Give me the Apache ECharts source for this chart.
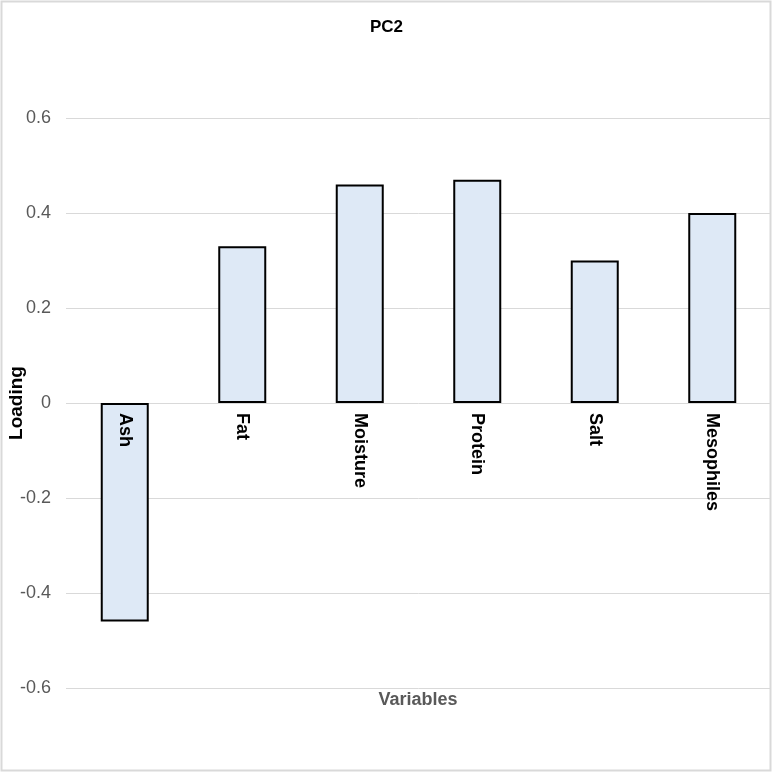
<!DOCTYPE html>
<html>
<head>
<meta charset="utf-8">
<script src="https://cdn.jsdelivr.net/npm/echarts@6/dist/echarts.min.js"></script>
<style>
  html, body { margin: 0; padding: 0; background: #fff; }
  #chart { width: 773px; height: 773px; }
</style>
</head>
<body>
<div id="chart"></div>
<script>
const categories = ['Ash', 'Fat', 'Moisture', 'Protein', 'Salt', 'Mesophiles']
const loadings = [-0.46, 0.33, 0.46, 0.47, 0.30, 0.40]

const FONT = 'Liberation Sans, Arial, sans-serif'
const gridTop = 118
const gridBottom = 85
const plotHeight = 773 - gridTop - gridBottom

const chart = echarts.init(document.getElementById('chart'))
const option = {
  backgroundColor: '#fff',
  animation: false,
  textStyle: { fontFamily: FONT },
  title: {
    text: 'PC2',
    left: 'center',
    top: 14,
    textStyle: { fontSize: 17, fontWeight: 'bold', color: '#000', fontFamily: FONT }
  },
  graphic: [
    {
      type: 'rect',
      shape: { x: 1.5, y: 1.5, width: 769, height: 769 },
      style: { fill: 'none', stroke: '#d9d9d9', lineWidth: 2 },
      silent: true
    },
    {
      type: 'text',
      x: 418,
      y: 700,
      style: {
        text: 'Variables',
        font: 'bold 18px ' + FONT,
        fill: '#595959',
        textAlign: 'center',
        textVerticalAlign: 'middle'
      }
    }
  ],
  grid: { left: 66, right: 2, top: gridTop, bottom: gridBottom, outerBoundsMode: 'none' },
  xAxis: {
    type: 'category',
    data: categories,
    // category axis sits on the zero line, labels drawn above the bars
    offset: -plotHeight / 2,
    z: 5,
    axisLine: { show: false, onZero: false },
    axisTick: { show: false },
    axisLabel: {
      rotate: -90,
      margin: 10,
      color: '#000',
      fontSize: 18,
      fontWeight: 'bold'
    }
  },
  yAxis: {
    type: 'value',
    min: -0.6,
    max: 0.6,
    interval: 0.2,
    name: 'Loading',
    nameLocation: 'middle',
    nameGap: 40,
    nameMoveOverlap: false,
    nameTextStyle: { fontSize: 19, fontWeight: 'bold', color: '#000' },
    axisLine: { show: false },
    axisTick: { show: false },
    axisLabel: {
      margin: 15,
      color: '#595959',
      fontSize: 18,
      formatter: function (v) { return Math.abs(v) < 1e-9 ? '0' : String(Math.round(v * 10) / 10) }
    },
    splitLine: { lineStyle: { color: '#d9d9d9', width: 1 } }
  },
  series: [
    {
      type: 'bar',
      data: loadings,
      barWidth: 48,
      itemStyle: { color: '#dee9f6', borderColor: '#000', borderWidth: 2 }
    }
  ]
}
chart.setOption(option)
</script>
</body>
</html>
